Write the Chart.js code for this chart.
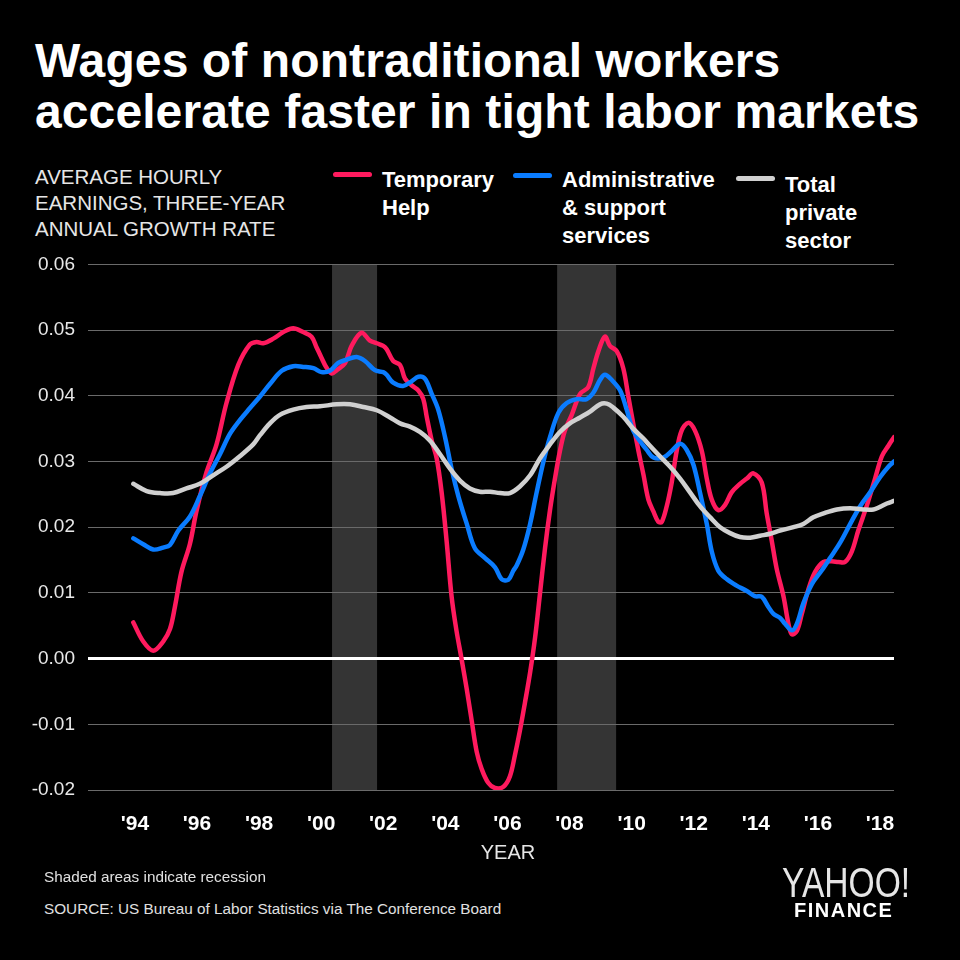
<!DOCTYPE html>
<html>
<head>
<meta charset="utf-8">
<script src="https://cdn.jsdelivr.net/npm/chart.js@4.4.1/dist/chart.umd.min.js"></script>
<style>
  html, body { margin: 0; padding: 0; background: #000; }
  body { width: 960px; height: 960px; position: relative; overflow: hidden; font-family: "Liberation Sans", Arial, sans-serif; color: #fff; }
  .abs { position: absolute; white-space: nowrap; }
  #title { left: 35px; top: 35px; font-size: 48px; line-height: 51px; font-weight: bold; letter-spacing: 0.1px; }
  #subtitle { left: 35px; top: 164px; font-size: 20.5px; line-height: 26px; color: #e6e6e6; }
  .legend-text { font-size: 22px; line-height: 28px; font-weight: bold; }
  .swatch { position: absolute; width: 39px; height: 5px; border-radius: 3px; }
  #chart-wrap { position: absolute; left: 0; top: 240px; width: 960px; height: 640px; }
  #xtitle { left: 508px; top: 840px; transform: translateX(-50%); font-size: 20px; line-height: 24px; color: #e6e6e6; }
  .note { left: 44px; font-size: 15.3px; line-height: 18px; color: #e0e0e0; }
  #yahoo { left: 782px; top: 861px; font-size: 42px; line-height: 44px; color: #e6e6e6; transform: scaleX(0.8); transform-origin: 0 0; }
  #finance { left: 794px; top: 899px; font-size: 20px; line-height: 22px; font-weight: bold; letter-spacing: 1.5px; color: #fff; }
</style>
</head>
<body>
<div id="title" class="abs">Wages of nontraditional workers<br>accelerate faster in tight labor markets</div>
<div id="subtitle" class="abs">AVERAGE HOURLY<br>EARNINGS, THREE-YEAR<br>ANNUAL GROWTH RATE</div>

<div class="swatch" style="left:333px; top:172px; background:#ff1a5e;"></div>
<div class="abs legend-text" style="left:382px; top:166px;">Temporary<br>Help</div>
<div class="swatch" style="left:513px; top:173px; background:#0a7cff;"></div>
<div class="abs legend-text" style="left:562px; top:166px;">Administrative<br>&amp; support<br>services</div>
<div class="swatch" style="left:736px; top:176px; background:#d0d0d0;"></div>
<div class="abs legend-text" style="left:785px; top:171px;">Total<br>private<br>sector</div>

<div id="chart-wrap"><canvas id="chart"></canvas></div>

<div id="xtitle" class="abs">YEAR</div>
<div class="abs note" style="top:868px;">Shaded areas indicate recession</div>
<div class="abs note" style="top:900px;">SOURCE: US Bureau of Labor Statistics via The Conference Board</div>
<div id="yahoo" class="abs">YAHOO!</div>
<div id="finance" class="abs">FINANCE</div>

<script>
// Temporary help
const tempYears = [1993.95, 1994.27, 1994.59, 1994.91, 1995.13, 1995.29, 1995.50, 1995.77, 1995.99, 1996.31,
  1996.63, 1996.95, 1997.33, 1997.70, 1997.92, 1998.13, 1998.46, 1998.78, 1999.10, 1999.42,
  1999.69, 1999.85, 2000.01, 2000.17, 2000.34, 2000.50, 2000.77, 2000.98, 2001.30, 2001.57,
  2001.79, 2002.00, 2002.11, 2002.32, 2002.54, 2002.70, 2002.91, 2003.13, 2003.29, 2003.40,
  2003.56, 2003.72, 2003.88, 2004.04, 2004.20, 2004.36, 2004.52, 2004.69, 2004.85, 2005.01,
  2005.17, 2005.38, 2005.60, 2005.87, 2006.08, 2006.24, 2006.40, 2006.56, 2006.73, 2006.89,
  2007.05, 2007.21, 2007.37, 2007.53, 2007.69, 2007.85, 2008.07, 2008.34, 2008.60, 2008.77,
  2008.93, 2009.14, 2009.30, 2009.52, 2009.73, 2009.89, 2010.05, 2010.22, 2010.38, 2010.54,
  2010.70, 2010.86, 2010.97, 2011.13, 2011.29, 2011.45, 2011.61, 2011.83, 2012.04, 2012.26,
  2012.42, 2012.58, 2012.79, 2013.01, 2013.22, 2013.49, 2013.71, 2013.92, 2014.19, 2014.35,
  2014.51, 2014.67, 2014.89, 2015.05, 2015.16, 2015.32, 2015.48, 2015.69, 2015.91, 2016.18,
  2016.44, 2016.66, 2016.87, 2017.09, 2017.30, 2017.57, 2017.84, 2018.06, 2018.27, 2018.45];
const tempRate = [0.0055, 0.0026, 0.0012, 0.0026, 0.0045, 0.0079, 0.0132, 0.0174, 0.0226, 0.0284,
  0.0326, 0.0389, 0.0447, 0.0478, 0.0482, 0.0480, 0.0487, 0.0497, 0.0503, 0.0497,
  0.0490, 0.0474, 0.0458, 0.0443, 0.0434, 0.0439, 0.0450, 0.0476, 0.0496, 0.0484,
  0.0480, 0.0476, 0.0471, 0.0453, 0.0447, 0.0426, 0.0416, 0.0408, 0.0395, 0.0368,
  0.0332, 0.0305, 0.0253, 0.0179, 0.0095, 0.0042, 0.0000, -0.0047, -0.0095, -0.0142,
  -0.0168, -0.0189, -0.0197, -0.0195, -0.0179, -0.0147, -0.0110, -0.0068, -0.0021, 0.0032,
  0.0100, 0.0168, 0.0226, 0.0274, 0.0316, 0.0347, 0.0371, 0.0403, 0.0413, 0.0442,
  0.0468, 0.0490, 0.0476, 0.0468, 0.0442, 0.0400, 0.0358, 0.0316, 0.0280, 0.0242,
  0.0224, 0.0208, 0.0208, 0.0232, 0.0268, 0.0316, 0.0347, 0.0359, 0.0347, 0.0316,
  0.0274, 0.0242, 0.0226, 0.0234, 0.0253, 0.0266, 0.0274, 0.0282, 0.0268, 0.0221,
  0.0180, 0.0137, 0.0095, 0.0053, 0.0037, 0.0042, 0.0068, 0.0105, 0.0132, 0.0147,
  0.0148, 0.0147, 0.0147, 0.0163, 0.0195, 0.0232, 0.0274, 0.0308, 0.0324, 0.0337];

// Administrative & support services
const adminYears = [1993.95, 1994.27, 1994.59, 1994.91, 1995.13, 1995.40, 1995.77, 1996.09, 1996.42, 1996.74,
  1997.06, 1997.38, 1997.70, 1998.03, 1998.35, 1998.73, 1999.10, 1999.42, 1999.75, 2000.01,
  2000.28, 2000.55, 2000.82, 2001.14, 2001.41, 2001.73, 2002.00, 2002.11, 2002.32, 2002.64,
  2002.91, 2003.13, 2003.34, 2003.56, 2003.77, 2003.99, 2004.20, 2004.42, 2004.69, 2004.95,
  2005.28, 2005.60, 2005.81, 2006.03, 2006.19, 2006.30, 2006.51, 2006.73, 2006.94, 2007.16,
  2007.37, 2007.64, 2007.91, 2008.23, 2008.55, 2008.77, 2008.98, 2009.14, 2009.36, 2009.63,
  2009.84, 2010.05, 2010.30, 2010.48, 2010.70, 2011.02, 2011.29, 2011.56, 2011.77, 2011.99,
  2012.20, 2012.42, 2012.58, 2012.79, 2013.06, 2013.38, 2013.71, 2013.97, 2014.19, 2014.40,
  2014.57, 2014.78, 2014.94, 2015.16, 2015.32, 2015.53, 2015.80, 2016.12, 2016.39, 2016.71,
  2017.04, 2017.36, 2017.68, 2018.00, 2018.27, 2018.45];
const adminRate = [0.0183, 0.0174, 0.0166, 0.0169, 0.0173, 0.0195, 0.0216, 0.0247, 0.0282, 0.0311,
  0.0342, 0.0363, 0.0381, 0.0399, 0.0418, 0.0438, 0.0445, 0.0444, 0.0442, 0.0436,
  0.0438, 0.0450, 0.0455, 0.0459, 0.0453, 0.0439, 0.0436, 0.0432, 0.0420, 0.0415,
  0.0422, 0.0429, 0.0426, 0.0403, 0.0379, 0.0337, 0.0289, 0.0247, 0.0205, 0.0168,
  0.0153, 0.0139, 0.0121, 0.0120, 0.0134, 0.0142, 0.0166, 0.0205, 0.0253, 0.0300,
  0.0337, 0.0374, 0.0389, 0.0395, 0.0395, 0.0405, 0.0424, 0.0432, 0.0424, 0.0408,
  0.0379, 0.0347, 0.0329, 0.0318, 0.0306, 0.0306, 0.0316, 0.0327, 0.0318, 0.0295,
  0.0253, 0.0205, 0.0163, 0.0134, 0.0121, 0.0111, 0.0103, 0.0095, 0.0094, 0.0079,
  0.0068, 0.0062, 0.0053, 0.0043, 0.0053, 0.0084, 0.0113, 0.0134, 0.0153, 0.0176,
  0.0205, 0.0232, 0.0253, 0.0276, 0.0292, 0.0300];

// Total private sector
const totalYears = [1993.95, 1994.38, 1994.81, 1995.23, 1995.66, 1996.09, 1996.52, 1996.95, 1997.38, 1997.81,
  1998.03, 1998.35, 1998.67, 1999.10, 1999.53, 1999.96, 2000.50, 2000.93, 2001.36, 2001.79,
  2002.22, 2002.54, 2002.86, 2003.18, 2003.50, 2003.83, 2004.15, 2004.47, 2004.79, 2005.11,
  2005.44, 2005.76, 2006.08, 2006.40, 2006.73, 2007.05, 2007.37, 2007.69, 2008.01, 2008.34,
  2008.66, 2008.98, 2009.20, 2009.41, 2009.73, 2010.05, 2010.38, 2010.59, 2010.91, 2011.24,
  2011.56, 2011.88, 2012.20, 2012.53, 2012.85, 2013.17, 2013.49, 2013.82, 2014.14, 2014.46,
  2014.78, 2015.21, 2015.53, 2015.85, 2016.18, 2016.61, 2017.04, 2017.46, 2017.79, 2018.00,
  2018.22, 2018.45];
const totalRate = [0.0266, 0.0255, 0.0252, 0.0252, 0.0259, 0.0266, 0.0279, 0.0292, 0.0308, 0.0326,
  0.0340, 0.0358, 0.0371, 0.0379, 0.0383, 0.0384, 0.0387, 0.0387, 0.0383, 0.0378,
  0.0367, 0.0358, 0.0353, 0.0345, 0.0332, 0.0311, 0.0289, 0.0271, 0.0259, 0.0254,
  0.0254, 0.0252, 0.0252, 0.0262, 0.0279, 0.0305, 0.0326, 0.0345, 0.0358, 0.0367,
  0.0376, 0.0387, 0.0388, 0.0382, 0.0368, 0.0350, 0.0335, 0.0324, 0.0308, 0.0292,
  0.0274, 0.0253, 0.0232, 0.0215, 0.0200, 0.0191, 0.0185, 0.0184, 0.0187, 0.0190,
  0.0195, 0.0200, 0.0205, 0.0215, 0.0221, 0.0227, 0.0229, 0.0227, 0.0227, 0.0231,
  0.0236, 0.0240];

// recession shading (as drawn in the chart)
const recessionStart = [2000.35, 2007.60];
const recessionEnd = [2001.80, 2009.50];

const tickYears = [1994, 1996, 1998, 2000, 2002, 2004, 2006, 2008, 2010, 2012, 2014, 2016, 2018];
const yTicks = [-0.02, -0.01, 0, 0.01, 0.02, 0.03, 0.04, 0.05, 0.06];

const toPoints = (xs, ys) => xs.map((x, i) => ({ x: x, y: ys[i] }));

const recessionPlugin = {
  id: 'recessions',
  beforeDraw(chart) {
    const { ctx, chartArea, scales } = chart;
    ctx.save();
    ctx.fillStyle = '#343434';
    recessionStart.forEach((start, i) => {
      const x0 = scales.x.getPixelForValue(start);
      const x1 = scales.x.getPixelForValue(recessionEnd[i]);
      ctx.fillRect(x0, chartArea.top, x1 - x0, chartArea.bottom - chartArea.top);
    });
    ctx.restore();
  }
};

const lineStyle = {
  borderWidth: 4.5,
  pointRadius: 0,
  tension: 0.35,
  borderCapStyle: 'round',
  borderJoinStyle: 'round',
  fill: false
};

new Chart(document.getElementById('chart').getContext('2d'), {
  type: 'line',
  data: {
    datasets: [
      { label: 'Temporary Help', data: toPoints(tempYears, tempRate), borderColor: '#ff1a5e', order: 2, ...lineStyle },
      { label: 'Administrative & support services', data: toPoints(adminYears, adminRate), borderColor: '#0a7cff', order: 1, ...lineStyle },
      { label: 'Total private sector', data: toPoints(totalYears, totalRate), borderColor: '#d0d0d0', order: 0, ...lineStyle }
    ]
  },
  options: {
    responsive: true,
    maintainAspectRatio: false,
    animation: false,
    layout: { padding: { top: 23, right: 66, left: 0, bottom: 0 } },
    plugins: {
      legend: { display: false },
      tooltip: { enabled: false }
    },
    scales: {
      x: {
        type: 'linear',
        min: 1992.49,
        max: 2018.45,
        grid: { display: false },
        border: { display: false },
        afterBuildTicks: (scale) => { scale.ticks = tickYears.map(v => ({ value: v })); },
        afterFit: (scale) => { scale.height = 90; },
        ticks: {
          color: '#ffffff',
          padding: 14,
          maxRotation: 0,
          autoSkip: false,
          font: { family: 'Liberation Sans, Arial, sans-serif', size: 21, weight: 'bold' },
          callback: (v) => "'" + String(v).slice(2)
        }
      },
      y: {
        min: -0.02,
        max: 0.06,
        afterBuildTicks: (scale) => { scale.ticks = yTicks.map(v => ({ value: v })); },
        afterFit: (scale) => { scale.width = 88; },
        border: { display: false },
        grid: {
          drawTicks: false,
          color: (ctx) => (Math.abs(ctx.tick.value) < 1e-9 ? '#ffffff' : '#6a6a6a'),
          lineWidth: (ctx) => (Math.abs(ctx.tick.value) < 1e-9 ? 3 : 1)
        },
        ticks: {
          color: '#e8e8e8',
          padding: 13,
          font: { family: 'Liberation Sans, Arial, sans-serif', size: 19 },
          callback: (v) => v.toFixed(2)
        }
      }
    }
  },
  plugins: [recessionPlugin]
});
</script>
</body>
</html>
